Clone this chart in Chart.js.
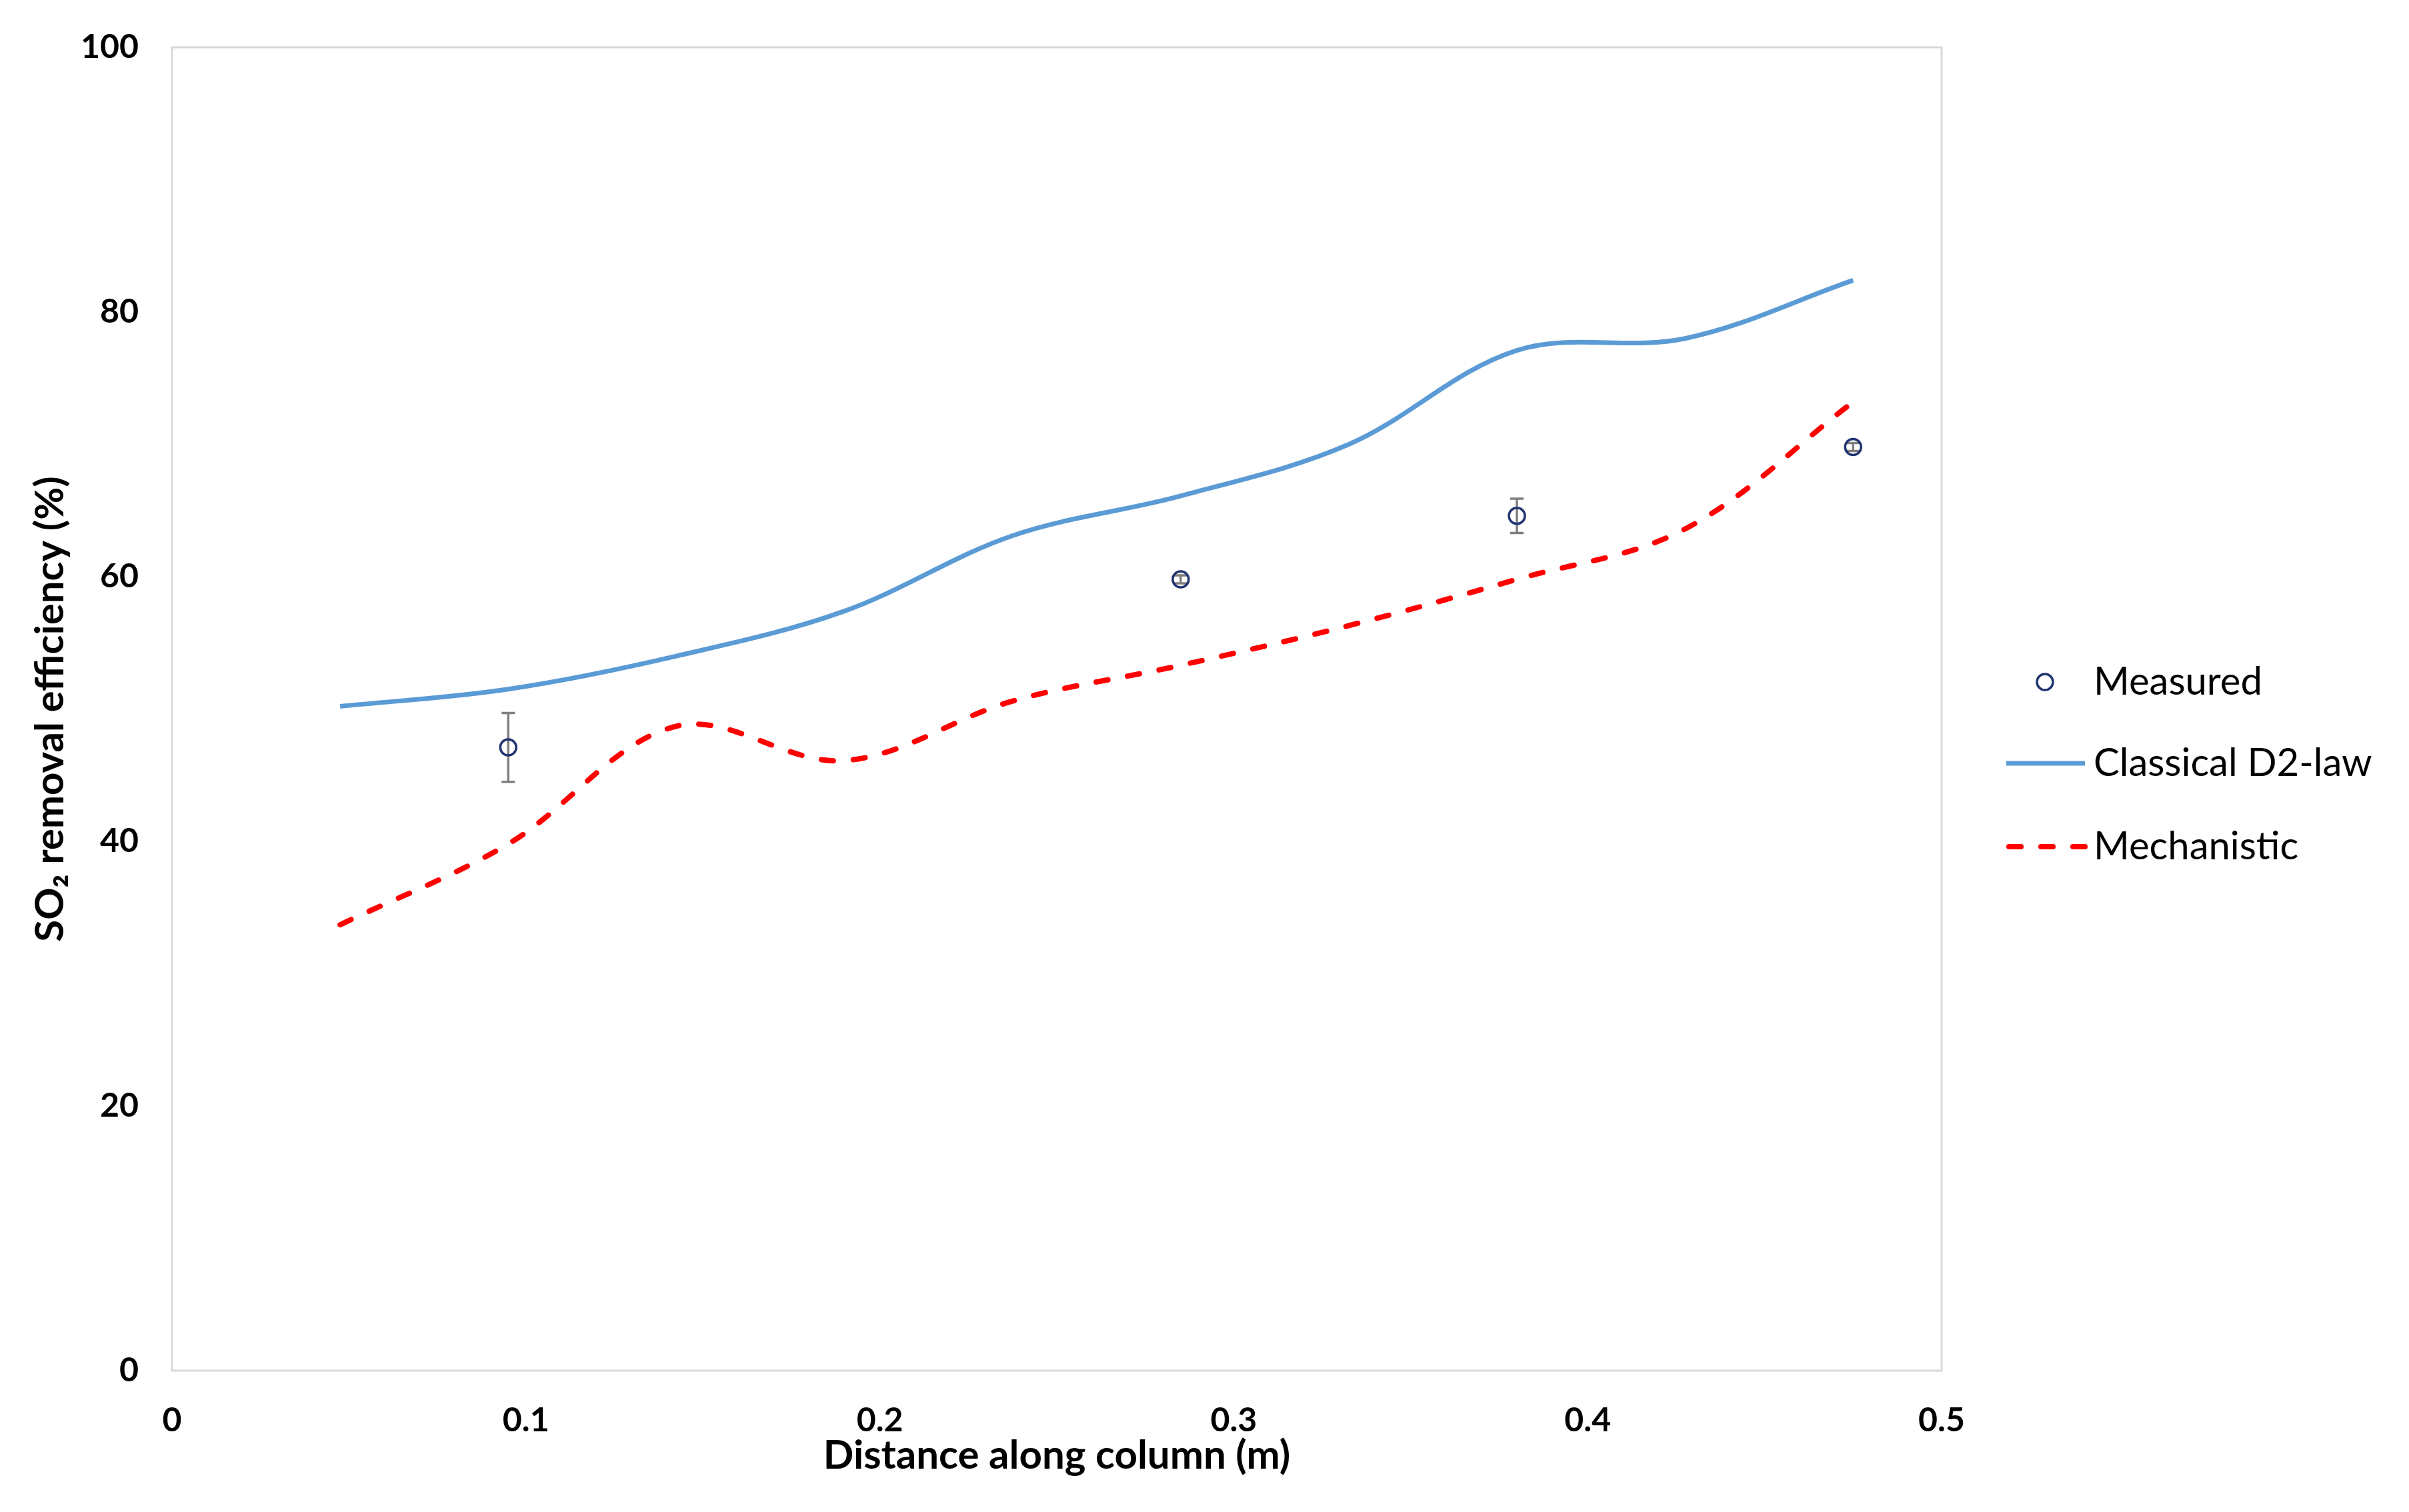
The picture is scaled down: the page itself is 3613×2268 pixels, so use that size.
<!DOCTYPE html>
<html>
<head>
<meta charset="utf-8">
<script src="https://cdn.jsdelivr.net/npm/chart.js@4.4.1/dist/chart.umd.min.js"></script>
<style>
  html, body { margin: 0; padding: 0; background: #fff; }
  #wrap { width: 3613px; height: 2268px; }
</style>
</head>
<body>
<div id="wrap"><canvas id="chart" width="3613" height="2268"></canvas></div>
<script>
// distance along the column (m) for the model curves
const distance = [0.0475, 0.095, 0.1425, 0.19, 0.2375, 0.285, 0.3325, 0.38, 0.4275, 0.475];
const classicalD2 = [50.2, 51.5, 54.0, 57.4, 63.1, 66.1, 70.0, 77.1, 78.0, 82.4];
const mechanistic = [33.7, 39.8, 48.7, 46.1, 50.6, 53.3, 56.3, 59.8, 63.6, 73.2];

// measured points with error
const measuredX = [0.095, 0.285, 0.38, 0.475];
const measuredY = [47.1, 59.8, 64.6, 69.8];
const measuredErr = [2.6, 0.3, 1.3, 0.3];

const xTicks = [0, 0.1, 0.2, 0.3, 0.4, 0.5];
const yTicks = [0, 20, 40, 60, 80, 100];

const FONT = 'Lato, "DejaVu Sans", sans-serif';
const NAVY = '#1f3470';
const BLUE = '#5b9bd5';
const RED = '#ff0000';

const toPoints = (xs, ys) => xs.map((x, i) => ({ x: x, y: ys[i] }));

const plotBorder = {
  id: 'plotBorder',
  beforeDatasetsDraw(chart) {
    const { ctx, chartArea: a } = chart;
    ctx.save();
    ctx.strokeStyle = '#d9d9d9';
    ctx.lineWidth = 3;
    ctx.strokeRect(a.left, a.top, a.right - a.left, a.bottom - a.top);
    ctx.restore();
  }
};

const errorBars = {
  id: 'errorBars',
  beforeDatasetsDraw(chart) {
    const { ctx } = chart;
    const xs = chart.scales.x, ys = chart.scales.y;
    ctx.save();
    ctx.strokeStyle = '#7f7f7f';
    ctx.lineWidth = 3.5;
    measuredX.forEach((x, i) => {
      const px = xs.getPixelForValue(x);
      const top = ys.getPixelForValue(measuredY[i] + measuredErr[i]);
      const bot = ys.getPixelForValue(measuredY[i] - measuredErr[i]);
      ctx.beginPath();
      ctx.moveTo(px, top); ctx.lineTo(px, bot);
      ctx.moveTo(px - 10, top); ctx.lineTo(px + 10, top);
      ctx.moveTo(px - 10, bot); ctx.lineTo(px + 10, bot);
      ctx.stroke();
    });
    ctx.restore();
  }
};

const sideLegend = {
  id: 'sideLegend',
  afterDraw(chart) {
    const { ctx } = chart;
    ctx.save();
    ctx.font = '58px ' + FONT;
    ctx.fillStyle = '#000';
    ctx.textBaseline = 'middle';
    ctx.textAlign = 'left';

    ctx.beginPath();
    ctx.arc(3067, 1023, 12, 0, Math.PI * 2);
    ctx.strokeStyle = NAVY;
    ctx.lineWidth = 3.5;
    ctx.stroke();
    ctx.fillText('Measured', 3140, 1023);

    ctx.beginPath();
    ctx.moveTo(3009, 1145); ctx.lineTo(3127, 1145);
    ctx.strokeStyle = BLUE;
    ctx.lineWidth = 7;
    ctx.stroke();
    ctx.fillText('Classical D2-law', 3140, 1145);

    ctx.beginPath();
    ctx.setLineDash([18, 30]);
    ctx.lineCap = 'round';
    ctx.moveTo(3013, 1270); ctx.lineTo(3127, 1270);
    ctx.strokeStyle = RED;
    ctx.lineWidth = 8;
    ctx.stroke();
    ctx.setLineDash([]);
    ctx.fillText('Mechanistic', 3140, 1270);
    ctx.restore();
  }
};

new Chart(document.getElementById('chart'), {
  type: 'scatter',
  data: {
    datasets: [
      {
        label: 'Measured',
        data: toPoints(measuredX, measuredY),
        showLine: false,
        pointStyle: 'circle',
        pointRadius: 12,
        pointBorderWidth: 3.5,
        pointBorderColor: NAVY,
        pointBackgroundColor: 'rgba(0,0,0,0)'
      },
      {
        label: 'Classical D2-law',
        data: toPoints(distance, classicalD2),
        showLine: true,
        borderColor: BLUE,
        borderWidth: 7,
        tension: 0.35,
        pointRadius: 0,
        fill: false
      },
      {
        label: 'Mechanistic',
        data: toPoints(distance, mechanistic),
        showLine: true,
        borderColor: RED,
        borderWidth: 8,
        borderDash: [18, 30],
        borderCapStyle: 'round',
        tension: 0.35,
        pointRadius: 0,
        fill: false
      }
    ]
  },
  options: {
    responsive: false,
    animation: false,
    devicePixelRatio: 1,
    layout: { padding: { left: 0, top: 40, right: 701, bottom: 0 } },
    plugins: {
      legend: { display: false },
      tooltip: { enabled: false }
    },
    scales: {
      x: {
        type: 'linear',
        min: 0,
        max: 0.5,
        afterBuildTicks: s => { s.ticks = xTicks.map(v => ({ value: v })); },
        afterFit: s => { s.height = 212; },
        grid: { display: false, drawTicks: false },
        border: { display: false },
        ticks: {
          padding: 45,
          color: '#000',
          font: { family: FONT, size: 50, weight: 'bold' },
          callback: v => String(Number(v.toFixed(2)))
        },
        title: {
          display: true,
          text: 'Distance along column (m)',
          color: '#000',
          font: { family: FONT, size: 60, weight: 'bold' },
          padding: { top: 0, bottom: 48 }
        }
      },
      y: {
        min: 0,
        max: 100,
        afterBuildTicks: s => { s.ticks = yTicks.map(v => ({ value: v })); },
        afterFit: s => { s.width = 258; },
        grid: { display: false, drawTicks: false },
        border: { display: false },
        ticks: {
          padding: 50,
          color: '#000',
          font: { family: FONT, size: 50, weight: 'bold', lineHeight: 0.84 }
        },
        title: {
          display: true,
          text: 'SO\u2082 removal efficiency (%)',
          color: '#000',
          font: { family: FONT, size: 60, weight: 'bold' },
          padding: { top: 40, bottom: 0 }
        }
      }
    }
  },
  plugins: [plotBorder, errorBars, sideLegend]
});
</script>
</body>
</html>
